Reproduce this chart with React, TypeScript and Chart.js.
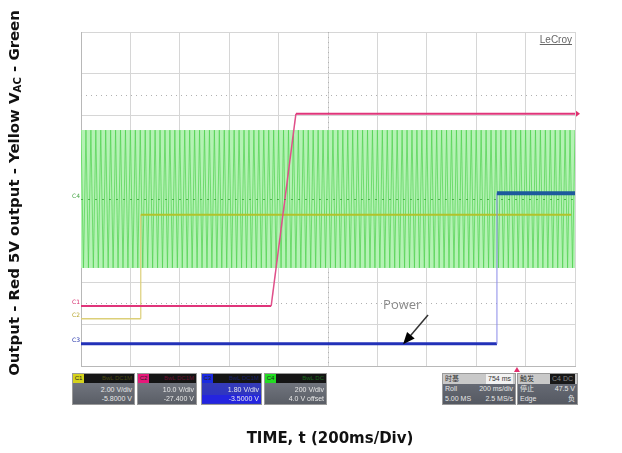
import React, { useEffect, useRef } from "react";
import { Chart, registerables } from "chart.js";
Chart.register(...registerables);

// Time axis: 0..2000 ms (200 ms/div, 10 div). Vertical: 0..8 divisions.
const timeMin = 0;
const timeMax = 2000;
const timeStep = 200;
const divMin = 0;
const divMax = 8;

// Red: 5V output
const redTimes = [0, 770, 870, 2000];
const redLevels = [1.44, 1.44, 6.04, 6.04];
// Yellow: output
const yellowTimes = [0, 242, 242, 1985];
const yellowLevels = [1.13, 1.13, 3.62, 3.62];
// Blue: Power
const blueTimes = [0, 1684, 1684, 2000];
const blueLevels = [0.53, 0.53, 4.14, 4.14];
// Green: V_AC (50 Hz, 100 cycles across the screen)
const acHigh = 5.65;
const acLow = 2.35;
const acCycles = 100;
const acCenter = 4.0;

// Cursors / annotations
const cursorLevels = [6.5, 1.5];
const centerTime = 1000;
const powerLabel = "Power";
const powerLabelAt = { t: 1223, v: 1.46 };
const powerArrowFrom = { t: 1405, v: 1.22 };
const powerArrowTo = { t: 1304, v: 0.52 };
const triggerTime = 1765;

const yTitleParts = ["Output - Red 5V output - Yellow V", "AC", " - Green"];
const xTitle = "TIME, t (200ms/Div)";

const channelBoxes = [
  { tag: "C1", color: "#d6d31c", label: "BwL DC1M", rows: ["2.00 V/div", "-5.8000 V"], sel: false },
  { tag: "C2", color: "#e6197a", label: "BwL DC1M", rows: ["10.0 V/div", "-27.400 V"], sel: false },
  { tag: "C3", color: "#1b2be0", label: "BwL DC1M", rows: ["1.80 V/div", "-3.5000 V"], sel: true },
  { tag: "C4", color: "#22dd22", label: "BwL DC", rows: ["200 V/div", "4.0 V offset"], sel: false },
];
const timebaseRows = [["时基", "754 ms"], ["Roll", "200 ms/div"], ["5.00 MS", "2.5 MS/s"]];
const triggerRows = [["触发", "C4 DC"], ["停止", "47.5 V"], ["Edge", "负"]];

function pts(ts: number[], vs: number[]) {
  return ts.map((t, i) => ({ x: t, y: vs[i] }));
}

function acPoints() {
  const out: { x: number; y: number }[] = [];
  const half = (timeMax - timeMin) / (acCycles * 2);
  for (let i = 0; i <= acCycles * 2; i++) {
    out.push({ x: timeMin + i * half, y: i % 2 === 0 ? acHigh : acLow });
  }
  return out;
}

const segStyle = (low: string, mid: string, high: string, wl: number, wm: number, wh: number) => ({
  borderColor: (c: any) => (c.p0DataIndex === 0 ? low : c.p0DataIndex === 1 ? mid : high),
  borderWidth: (c: any) => (c.p0DataIndex === 0 ? wl : c.p0DataIndex === 1 ? wm : wh),
});

const TITLE_FONT = "'DejaVu Sans', sans-serif";

const overlayPlugin = {
  id: "overlay",
  beforeDatasetsDraw(chart: any) {
    const { ctx, chartArea: a, scales } = chart;
    const x = scales.x, y = scales.y;
    ctx.save();
    ctx.strokeStyle = "#b0b0b0";
    ctx.lineWidth = 1;
    ctx.setLineDash([1, 4]);
    for (const lv of cursorLevels) {
      const py = Math.round(y.getPixelForValue(lv)) + 0.5;
      ctx.beginPath();
      ctx.moveTo(a.left, py);
      ctx.lineTo(a.right, py);
      ctx.stroke();
    }
    const px = Math.round(x.getPixelForValue(centerTime)) + 0.5;
    ctx.beginPath();
    ctx.moveTo(px, a.top);
    ctx.lineTo(px, a.bottom);
    ctx.stroke();
    ctx.restore();
  },
  afterDatasetsDraw(chart: any) {
    const { ctx, chartArea: a, scales } = chart;
    const x = scales.x, y = scales.y;
    ctx.save();
    // green centre dashes of C4
    ctx.strokeStyle = "rgba(40,160,40,0.7)";
    ctx.setLineDash([2, 5]);
    const cy = Math.round(y.getPixelForValue(acCenter)) + 0.5;
    ctx.beginPath();
    ctx.moveTo(a.left, cy);
    ctx.lineTo(a.right, cy);
    ctx.stroke();
    ctx.setLineDash([]);

    // channel tags on left
    ctx.font = "6px 'DejaVu Sans'";
    ctx.textBaseline = "middle";
    ctx.textAlign = "right";
    const tags: [string, string, number][] = [
      ["C4", "#4aa84a", acCenter],
      ["C1", "#d83070", redLevels[0]],
      ["C2", "#b8a830", yellowLevels[0]],
      ["C3", "#2233aa", blueLevels[0]],
    ];
    for (const [t, c, v] of tags) {
      ctx.fillStyle = c;
      ctx.fillText(t, a.left - 1, y.getPixelForValue(v) - 3);
    }

    // red end marker
    const ry = y.getPixelForValue(redLevels[redLevels.length - 1]);
    ctx.fillStyle = "#e0306e";
    ctx.beginPath();
    ctx.moveTo(a.right + 5, ry);
    ctx.lineTo(a.right + 1, ry - 3);
    ctx.lineTo(a.right + 1, ry + 3);
    ctx.closePath();
    ctx.fill();

    // trigger marker
    const tx = x.getPixelForValue(triggerTime);
    ctx.beginPath();
    ctx.moveTo(tx, a.bottom + 1);
    ctx.lineTo(tx - 3, a.bottom + 6);
    ctx.lineTo(tx + 3, a.bottom + 6);
    ctx.closePath();
    ctx.fill();

    // LeCroy logo
    ctx.font = "10px 'Liberation Sans'";
    ctx.fillStyle = "#666";
    ctx.textAlign = "right";
    ctx.textBaseline = "alphabetic";
    ctx.fillText("LeCroy", a.right - 3, a.top + 11);
    const lw = ctx.measureText("LeCroy").width;
    ctx.fillRect(a.right - 3 - lw, a.top + 12, lw, 1);

    // Power label + arrow
    ctx.font = "13px 'Open Sans'";
    ctx.fillStyle = "#8a8a8a";
    ctx.textAlign = "left";
    ctx.textBaseline = "middle";
    ctx.fillText(powerLabel, x.getPixelForValue(powerLabelAt.t), y.getPixelForValue(powerLabelAt.v));
    const x0 = x.getPixelForValue(powerArrowFrom.t), y0 = y.getPixelForValue(powerArrowFrom.v);
    const x1 = x.getPixelForValue(powerArrowTo.t), y1 = y.getPixelForValue(powerArrowTo.v);
    const ang = Math.atan2(y1 - y0, x1 - x0);
    ctx.strokeStyle = "#333";
    ctx.lineWidth = 1.5;
    ctx.beginPath();
    ctx.moveTo(x0, y0);
    ctx.lineTo(x1 - 8 * Math.cos(ang), y1 - 8 * Math.sin(ang));
    ctx.stroke();
    ctx.fillStyle = "#000";
    ctx.beginPath();
    ctx.moveTo(x1, y1);
    ctx.lineTo(x1 - 12 * Math.cos(ang) + 5 * Math.sin(ang), y1 - 12 * Math.sin(ang) - 5 * Math.cos(ang));
    ctx.lineTo(x1 - 12 * Math.cos(ang) - 5 * Math.sin(ang), y1 - 12 * Math.sin(ang) + 5 * Math.cos(ang));
    ctx.closePath();
    ctx.fill();
    ctx.restore();
  },
  afterDraw(chart: any) {
    const { ctx } = chart;
    ctx.save();
    ctx.fillStyle = "#111";
    // X title, fitted to the reference width
    ctx.font = `bold 14px ${TITLE_FONT}`;
    const xw = ctx.measureText(xTitle).width;
    const xs = Math.min(15, (14 * 186) / xw);
    ctx.font = `bold ${xs}px ${TITLE_FONT}`;
    ctx.textAlign = "center";
    ctx.textBaseline = "middle";
    ctx.fillText(xTitle, 330, 439);
    // Y title with subscript, fitted to the reference height
    const measure = (s: number) => {
      ctx.font = `bold ${s}px ${TITLE_FONT}`;
      const a0 = ctx.measureText(yTitleParts[0]).width;
      const a2 = ctx.measureText(yTitleParts[2]).width;
      ctx.font = `bold ${s * 0.68}px ${TITLE_FONT}`;
      const a1 = ctx.measureText(yTitleParts[1]).width;
      return [a0, a1, a2];
    };
    const m13 = measure(13);
    const ys = Math.min(15, (13 * 366) / (m13[0] + m13[1] + m13[2]));
    const [w0, w1, w2] = measure(ys);
    const total = w0 + w1 + w2;
    ctx.translate(15, 193);
    ctx.rotate(-Math.PI / 2);
    ctx.textAlign = "left";
    ctx.textBaseline = "middle";
    let cx = -total / 2;
    ctx.font = `bold ${ys}px ${TITLE_FONT}`;
    ctx.fillText(yTitleParts[0], cx, 0);
    cx += w0;
    ctx.font = `bold ${ys * 0.68}px ${TITLE_FONT}`;
    ctx.fillText(yTitleParts[1], cx, 3);
    cx += w1;
    ctx.font = `bold ${ys}px ${TITLE_FONT}`;
    ctx.fillText(yTitleParts[2], cx, 0);
    ctx.restore();
  },
};

function InfoBoxes() {
  const lefts = [72, 137, 201, 264];
  const widths = [63, 60, 61, 63];
  const txt: React.CSSProperties = {
    fontFamily: "'Liberation Sans', sans-serif",
    fontSize: 7,
    lineHeight: "8px",
    color: "#e8e8e8",
    textAlign: "right",
    paddingRight: 2,
    whiteSpace: "nowrap",
    overflow: "hidden",
  };
  return (
    <>
      {channelBoxes.map((b, i) => (
        <div
          key={b.tag}
          style={{
            position: "absolute",
            left: lefts[i],
            top: 373,
            width: widths[i],
            height: 32,
            background: b.sel ? "linear-gradient(#3a40b0,#2a30c8)" : "linear-gradient(#7a7e88,#5a5e66)",
            boxSizing: "border-box",
            border: "1px solid #9a9a9a",
          }}
        >
          <div style={{ display: "flex", height: 9, background: "#151515" }}>
            <div
              style={{
                width: 11,
                background: b.color,
                fontFamily: "'Liberation Sans'",
                fontSize: 6,
                lineHeight: "9px",
                color: "#222",
                textAlign: "center",
              }}
            >
              {b.tag}
            </div>
            <div
              style={{
                flex: 1,
                fontFamily: "'Liberation Sans'",
                fontSize: 6,
                lineHeight: "9px",
                color: i === 0 ? "#4a4a10" : i === 1 ? "#6a1030" : i === 2 ? "#15206a" : "#1a6a1a",
                textAlign: "right",
                paddingRight: 2,
              }}
            >
              {b.label}
            </div>
          </div>
          <div style={{ ...txt, marginTop: 3 }}>{b.rows[0]}</div>
          <div style={{ ...txt, background: b.sel ? "#2424e0" : "transparent", marginTop: 1 }}>{b.rows[1]}</div>
        </div>
      ))}
      {[timebaseRows, triggerRows].map((rows, k) => (
        <div
          key={"r" + k}
          style={{
            position: "absolute",
            left: k === 0 ? 442 : 517,
            top: 373,
            width: k === 0 ? 74 : 61,
            height: 32,
            background: "linear-gradient(#6e727c,#555962)",
            boxSizing: "border-box",
            border: "1px solid #9a9a9a",
          }}
        >
          {rows.map((r, j) => (
            <div
              key={j}
              style={{
                display: "flex",
                justifyContent: "space-between",
                height: 10,
                background: j === 0 ? "#c9c9c9" : "transparent",
                fontFamily: "'Liberation Sans','Noto Sans CJK SC', sans-serif",
                fontSize: 7,
                lineHeight: "10px",
                color: j === 0 ? "#333" : "#e6e6e6",
                padding: "0 2px",
              }}
            >
              <span>{r[0]}</span>
              <span
                style={
                  j === 0
                    ? { background: k === 0 ? "#f2f2f2" : "#181818", color: k === 0 ? "#333" : "#888", padding: "0 2px" }
                    : {}
                }
              >
                {r[1]}
              </span>
            </div>
          ))}
        </div>
      ))}
    </>
  );
}

export default function App() {
  const ref = useRef<HTMLCanvasElement | null>(null);
  useEffect(() => {
    if (!ref.current) return;
    const chart = new Chart(ref.current, {
      type: "line",
      data: {
        datasets: [
          {
            label: "Blue",
            data: pts(blueTimes, blueLevels),
            pointRadius: 0,
            segment: segStyle("#2231b8", "#8a8ae8", "#1d5a9c", 3, 1, 4),
            borderColor: "#2231b8",
            order: 1,
          } as any,
          {
            label: "Red",
            data: pts(redTimes, redLevels),
            pointRadius: 0,
            segment: segStyle("#e0357a", "#e0508a", "#e0357a", 2, 1.5, 2),
            borderColor: "#e0357a",
            order: 2,
          } as any,
          {
            label: "Yellow",
            data: pts(yellowTimes, yellowLevels),
            pointRadius: 0,
            segment: segStyle("#dccf78", "#dccf78", "#b2c22a", 1.5, 1.2, 2),
            borderColor: "#b2c22a",
            order: 3,
          } as any,
          {
            label: "AC",
            data: acPoints(),
            pointRadius: 0,
            borderColor: "rgba(80,210,80,0.7)",
            borderWidth: 1,
            tension: 0,
            order: 4,
          } as any,
          {
            label: "AC upper",
            data: pts([timeMin, timeMax], [acHigh, acHigh]),
            pointRadius: 0,
            borderWidth: 0,
            fill: "+1",
            backgroundColor: "#b4f2b4",
            order: 5,
          } as any,
          {
            label: "AC lower",
            data: pts([timeMin, timeMax], [acLow, acLow]),
            pointRadius: 0,
            borderWidth: 0,
            order: 6,
          } as any,
        ],
      },
      options: {
        animation: false,
        responsive: false,
        devicePixelRatio: 1,
        events: [],
        parsing: false as any,
        layout: { padding: { left: 81, top: 32, right: 47, bottom: 87 } },
        plugins: { legend: { display: false }, tooltip: { enabled: false }, filler: { propagate: false } },
        scales: {
          x: {
            type: "linear",
            min: timeMin,
            max: timeMax,
            ticks: { display: false, stepSize: timeStep },
            grid: { color: "#d6d6d6", drawTicks: false },
            border: { display: true, color: "#b8b8b8" },
            afterFit: (s: any) => {
              s.height = 0;
            },
          },
          y: {
            type: "linear",
            min: divMin,
            max: divMax,
            ticks: { display: false, stepSize: 1 },
            grid: { color: "#d6d6d6", drawTicks: false },
            border: { display: true, color: "#b8b8b8" },
            afterFit: (s: any) => {
              s.width = 0;
            },
          },
        },
      },
      plugins: [overlayPlugin],
    });
    return () => chart.destroy();
  }, []);
  return (
    <div style={{ position: "fixed", left: 0, top: 0, width: 622, height: 453, background: "#fff" }}>
      <canvas ref={ref} width={622} height={453} style={{ display: "block" }} />
      <InfoBoxes />
    </div>
  );
}
